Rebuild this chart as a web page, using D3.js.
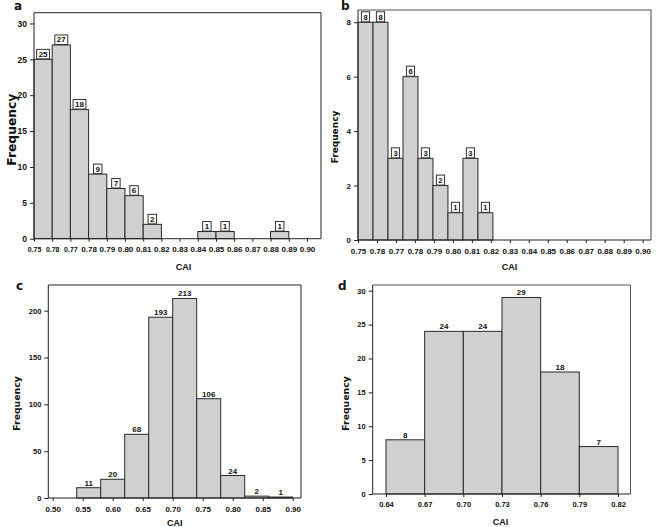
<!DOCTYPE html>
<html>
<head>
<meta charset="utf-8">
<script src="https://cdn.jsdelivr.net/npm/d3@7"></script>
<style>
body { margin: 0; background: #fff; }
text { font-family: "Liberation Sans", "Open Sans", sans-serif; font-weight: bold; fill: #111; }
.freq { font-family: "DejaVu Sans", sans-serif; }
</style>
</head>
<body>
<svg id="fig" width="656" height="527"></svg>
<script>
// ---- panel a
var aTicks = [0.75,0.76,0.77,0.78,0.79,0.80,0.81,0.82,0.83,0.84,0.85,0.86,0.87,0.88,0.89,0.90];
var aTickLabels = ["0.75","0.78","0.77","0.78","0.79","0.80","0.81","0.82","0.83","0.84","0.85","0.86","0.87","0.88","0.89","0.90"];
var aX0 = [0.75,0.76,0.77,0.78,0.79,0.80,0.81,0.84,0.85,0.88];
var aX1 = [0.76,0.77,0.78,0.79,0.80,0.81,0.82,0.85,0.86,0.89];
var aCounts = [25,27,18,9,7,6,2,1,1,1];
var aYTicks = [0,5,10,15,20,25,30];

// ---- panel b
var bTicks = aTicks;
var bTickLabels = aTickLabels;
var bX0 = [0.7500,0.7579,0.7658,0.7737,0.7816,0.7895,0.7974,0.8053,0.8132];
var bX1 = [0.7579,0.7658,0.7737,0.7816,0.7895,0.7974,0.8053,0.8132,0.8211];
var bCounts = [8,8,3,6,3,2,1,3,1];
var bYTicks = [0,2,4,6,8];

// ---- panel c
var cTicks = [0.50,0.55,0.60,0.65,0.70,0.75,0.80,0.85,0.90];
var cTickLabels = ["0.50","0.55","0.60","0.65","0.70","0.75","0.80","0.85","0.90"];
var cX0 = [0.54,0.58,0.62,0.66,0.70,0.74,0.78,0.82,0.86];
var cX1 = [0.58,0.62,0.66,0.70,0.74,0.78,0.82,0.86,0.90];
var cCounts = [11,20,68,193,213,106,24,2,1];
var cYTicks = [0,50,100,150,200];

// ---- panel d
var dTicks = [0.64,0.67,0.70,0.73,0.76,0.79,0.82];
var dTickLabels = ["0.64","0.67","0.70","0.73","0.76","0.79","0.82"];
var dX0 = [0.64,0.67,0.70,0.73,0.76,0.79];
var dX1 = [0.67,0.70,0.73,0.76,0.79,0.82];
var dCounts = [8,24,24,29,18,7];
var dYTicks = [0,5,10,15,20,25,30];

var svg = d3.select("#fig");

function drawPanel(p) {
  var g = svg.append("g");
  var x = d3.scaleLinear().domain(p.xDomain).range([p.left, p.right]);
  var y = d3.scaleLinear().domain(p.yDomain).range([p.bottom, p.top]);

  // bars
  g.selectAll("rect.bar").data(p.counts).enter().append("rect")
    .attr("class", "bar")
    .attr("x", function(d, i) { return x(p.x0[i]); })
    .attr("width", function(d, i) { return x(p.x1[i]) - x(p.x0[i]); })
    .attr("y", function(d) { return y(d); })
    .attr("height", function(d) { return y(0) - y(d); })
    .attr("fill", "#d0d0d0")
    .attr("stroke", "#2a2a2a")
    .attr("stroke-width", 1);

  // frame (top + right)
  g.append("path")
    .attr("d", "M" + p.left + "," + p.top + "H" + p.right + "V" + p.bottom)
    .attr("fill", "none")
    .attr("stroke", p.frameColor)
    .attr("stroke-width", p.frameWidth);

  // axes
  var xa = g.append("g").attr("transform", "translate(0," + p.bottom + ")")
    .call(d3.axisBottom(x).tickValues(p.ticks).tickFormat(function(d, i) { return p.tickLabels[i]; })
      .tickSizeOuter(0).tickSize(3).tickPadding(5));
  var ya = g.append("g").attr("transform", "translate(" + p.left + ",0)")
    .call(d3.axisLeft(y).tickValues(p.yTicks).tickSizeOuter(0).tickSize(4).tickPadding(3));
  xa.select(".domain").attr("d", "M" + p.left + ",0H" + p.right);
  ya.select(".domain").attr("d", "M0," + p.top + "V" + p.bottom);
  [xa, ya].forEach(function(a) {
    a.selectAll("path,line").attr("stroke", "#222");
    a.selectAll("text").attr("font-family", null).attr("fill", null).style("fill", "#111");
  });
  xa.selectAll("text").style("font-size", p.xFont + "px");
  ya.selectAll("text").style("font-size", p.yFont + "px");
  if (p.smallFirst) xa.selectAll("text").filter(function(d, i) { return i < 3; }).style("font-size", (p.xFont - 1) + "px");

  // value labels
  var lab = g.selectAll("g.lab").data(p.counts).enter().append("g").attr("class", "lab");
  if (p.boxed) {
    lab.each(function(d, i) {
      var cx = (x(p.x0[i]) + x(p.x1[i])) / 2;
      var top = y(d);
      var sel = d3.select(this);
      var t = sel.append("text").attr("x", cx).attr("y", top - 2.5)
        .attr("text-anchor", "middle").style("font-size", p.valFont + "px").text(d);
      var w = t.node().getComputedTextLength() + 4;
      sel.insert("rect", "text").attr("x", cx - w / 2).attr("y", top - p.boxH - 0.5)
        .attr("width", w).attr("height", p.boxH)
        .attr("fill", "#fff").attr("stroke", "#333").attr("stroke-width", 1);
    });
  } else {
    lab.append("text")
      .attr("x", function(d, i) { return (x(p.x0[i]) + x(p.x1[i])) / 2; })
      .attr("y", function(d) { return y(d) - 2; })
      .attr("text-anchor", "middle").style("font-size", p.valFont + "px").text(function(d) { return d; });
  }

  // axis titles
  g.append("text").attr("x", (p.left + p.right) / 2 + p.caiShift).attr("y", p.caiY)
    .attr("text-anchor", "middle").style("font-size", p.caiFont + "px").text("CAI");
  g.append("text").attr("class", "freq")
    .attr("transform", "translate(" + p.freqX + "," + ((p.top + p.bottom) / 2 + p.freqShift) + ") rotate(-90)")
    .attr("text-anchor", "middle").style("font-size", p.freqFont + "px").text("Frequency");
  g.append("text").attr("class", "freq").attr("x", p.letterX).attr("y", p.letterY)
    .style("font-size", "12px").text(p.letter);
}

drawPanel({letter: "a", letterX: 14, letterY: 10,
  xDomain: [0.75, 0.9077], yDomain: [0, 31.5], left: 34, right: 321, top: 12.7, bottom: 238.7,
  x0: aX0, x1: aX1, counts: aCounts, ticks: aTicks, tickLabels: aTickLabels, yTicks: aYTicks,
  frameColor: "#222", frameWidth: 1, xFont: 8, yFont: 8.5, smallFirst: true,
  boxed: true, boxH: 9.5, valFont: 8,
  caiY: 270, caiShift: 6, caiFont: 9, freqX: 16, freqShift: 4, freqFont: 12.3});

drawPanel({letter: "b", letterX: 341, letterY: 10,
  xDomain: [0.75, 0.9044], yDomain: [0, 8.45], left: 358, right: 651, top: 10, bottom: 240,
  x0: bX0, x1: bX1, counts: bCounts, ticks: bTicks, tickLabels: bTickLabels, yTicks: bYTicks,
  frameColor: "#8a8a8a", frameWidth: 1.6, xFont: 8, yFont: 8,
  boxed: true, boxH: 10, valFont: 7.5,
  caiY: 270, caiShift: 5, caiFont: 9, freqX: 338, freqShift: 12, freqFont: 9});

drawPanel({letter: "c", letterX: 16, letterY: 290,
  xDomain: [0.4927, 0.9138], yDomain: [0, 227.4], left: 48.3, right: 301, top: 285, bottom: 498,
  x0: cX0, x1: cX1, counts: cCounts, ticks: cTicks, tickLabels: cTickLabels, yTicks: cYTicks,
  frameColor: "#222", frameWidth: 1, xFont: 8, yFont: 7.5,
  boxed: false, valFont: 8,
  caiY: 526, caiShift: 0, caiFont: 9, freqX: 20, freqShift: 12, freqFont: 9.3});

drawPanel({letter: "d", letterX: 338, letterY: 290,
  xDomain: [0.6297, 0.8297], yDomain: [0, 30.84], left: 372.7, right: 630.5, top: 285, bottom: 494,
  x0: dX0, x1: dX1, counts: dCounts, ticks: dTicks, tickLabels: dTickLabels, yTicks: dYTicks,
  frameColor: "#555", frameWidth: 1, xFont: 7.5, yFont: 7.5,
  boxed: false, valFont: 8,
  caiY: 525, caiShift: -1, caiFont: 9, freqX: 349, freqShift: 14, freqFont: 9.3});
</script>
</body>
</html>
